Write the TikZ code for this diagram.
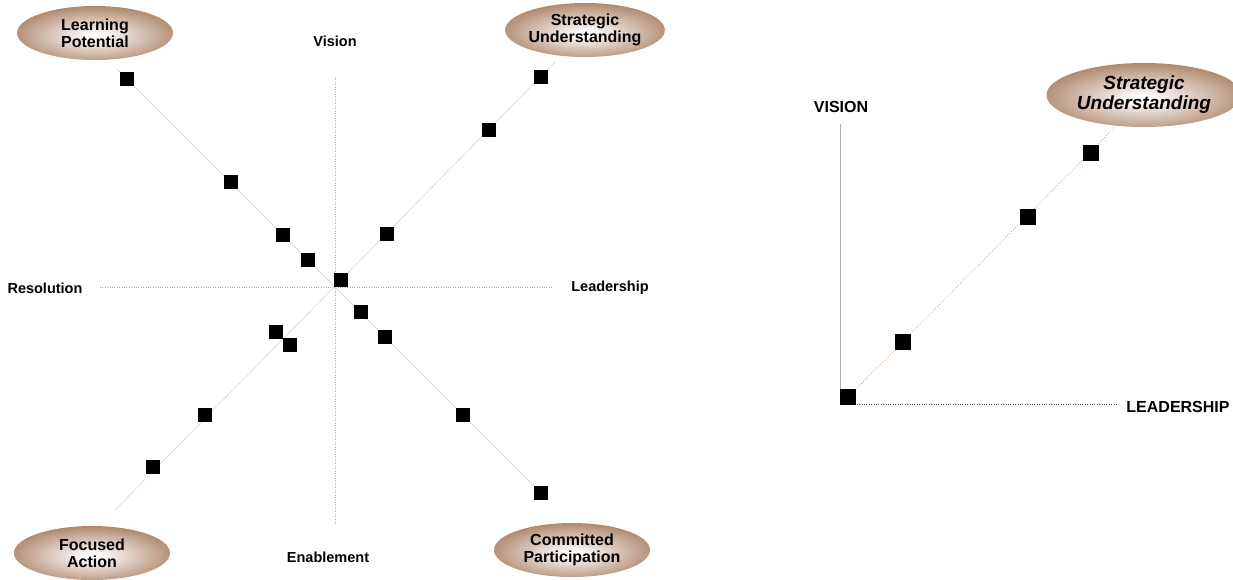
\documentclass[tikz,border=0pt]{standalone}
\usepackage{fontspec}
\setmainfont{Liberation Sans}
\usepackage{tikz}
\usetikzlibrary{shapes,backgrounds}
\definecolor{ovalbrown}{RGB}{170,128,98}
\definecolor{axisgrey}{RGB}{175,175,175}
\definecolor{diaggrey}{RGB}{200,200,200}
\definecolor{rustdot}{RGB}{210,130,85}
\pgfdeclareradialshading{ovalshade}{\pgfpoint{0bp}{-3bp}}{color(0bp)=(white); color(2bp)=(white); color(29bp)=(ovalbrown); color(100bp)=(ovalbrown)}
\tikzset{
  sq/.style={fill=black, inner sep=0pt, minimum size=14pt},
  bigsq/.style={sq, minimum size=16pt},
  oval/.style={ellipse, shading=ovalshade, inner sep=0pt, minimum width=156pt, minimum height=54pt, align=center, font=\fontsize{16}{17}\selectfont\bfseries},
  axislabel/.style={font=\fontsize{14.5}{16}\selectfont\bfseries},
}

\begin{document}
\begin{tikzpicture}[x=1pt,y=-1pt]
\useasboundingbox (0,0) rectangle (1233,579);
% left: the cross
\node[oval] (lp) at (95,33) {Learning\\Potential}; % top left
\node[oval] (suL) at (585,30) {Strategic\\Understanding}; % top right
\node[oval] (fa) at (92,553) {Focused\\Action}; % bottom left
\node[oval] (cp) at (572,550) {Committed\\Participation}; % bottom right
\node[axislabel] (vis) at (335,41) {Vision};
\node[axislabel] (ena) at (328,557) {Enablement};
\node[axislabel] (res) at (45,288) {Resolution};
\node[axislabel] (lea) at (610,288) {Leadership};
\coordinate (vtop) at (335,77); \coordinate (vbot) at (335,525); % vertical axis
\coordinate (hleft) at (100,287); \coordinate (hright) at (552,287); % horizontal axis
\coordinate (lpend) at (117,69); % end of falling diagonal
\coordinate (suend) at (555,62); \coordinate (faend) at (115,510); % rising diagonal
\node[sq] (lp1) at (127,79) {};
\node[sq] (lp2) at (231,182) {};
\node[sq] (lp3) at (283,235) {};
\node[sq] (lp4) at (308,260) {};
\node[sq] (mid) at (341,280) {};
\node[sq] (cp1) at (361,312) {};
\node[sq] (cp2) at (385,337) {};
\node[sq] (cp3) at (463,415) {};
\node[sq] (cp4) at (541,493) {};
\node[sq] (su1) at (387,234) {};
\node[sq] (su2) at (489,130) {};
\node[sq] (su3) at (541,77) {};
\node[sq] (fa1) at (276,332) {};
\node[sq] (fa2) at (290,345) {};
\node[sq] (fa3) at (205,415) {};
\node[sq] (fa4) at (153,467) {};
\begin{scope}[on background layer]
\draw[axisgrey,dotted,thin] (vtop)--(vbot); % Vision/Enablement
\draw[axisgrey,dotted,thin] (hleft)--(hright); % Resolution/Leadership
\draw[diaggrey,thin] (lpend)--(cp4.center); % falling diagonal
\draw[diaggrey,thin] (suend)--(faend); % rising diagonal
\end{scope}
% right: one quadrant
\node[oval, minimum width=195pt, minimum height=64pt, font=\fontsize{19}{20}\selectfont\bfseries\itshape] (suR) at (1144,95) {Strategic\\Understanding};
\node[font=\fontsize{16}{18}\selectfont\bfseries] (VIS) at (841,107) {VISION};
\node[font=\fontsize{16}{18}\selectfont\bfseries] (LEA) at (1178,407) {LEADERSHIP};
\coordinate (ytop) at (840,124); \coordinate (orig) at (840,404); \coordinate (xend) at (1118,404);
\coordinate (dend) at (1115,127);
\node[bigsq] (s0) at (848,397) {};
\node[bigsq] (s1) at (903,342) {};
\node[bigsq] (s2) at (1028,217) {};
\node[bigsq] (s3) at (1091,153) {};
\begin{scope}[on background layer]
\draw[axisgrey] (ytop)--(orig); % vision axis
\draw[black!70,dotted,thin] (orig)--(xend); % leadership axis
\draw[rustdot,dotted,line width=0.7pt] (s0.center)--(dend); % diagonal
\end{scope}
\end{tikzpicture}
\end{document}
